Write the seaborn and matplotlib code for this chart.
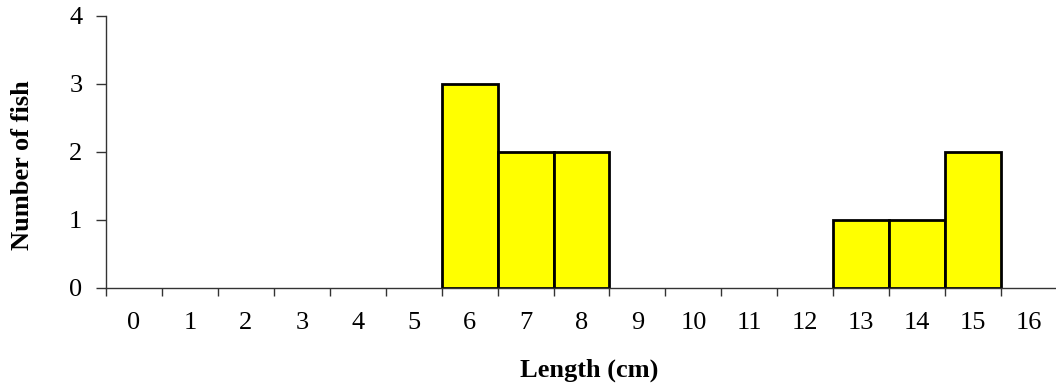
import numpy as np
import pandas as pd
import seaborn as sns
import matplotlib.pyplot as plt

# fish lengths (cm) and counts
lengths = list(range(0, 17))
counts = [0, 0, 0, 0, 0, 0, 3, 2, 2, 0, 0, 0, 0, 1, 1, 2, 0]

df = pd.DataFrame({"length": lengths, "count": counts})
bars = df[df["count"] > 0]

sns.set_style("white")
plt.rcParams['font.family'] = ['Liberation Serif', 'DejaVu Serif']
plt.rcParams['text.color'] = 'black'
plt.rcParams['axes.labelcolor'] = 'black'
plt.rcParams['xtick.labelcolor'] = 'black'
plt.rcParams['ytick.labelcolor'] = 'black'

fig = plt.figure(figsize=(10.56, 3.87), dpi=100)
ax = fig.add_axes([106 / 1056, 99 / 387, 951 / 1056, 272 / 387])

sns.barplot(data=bars, x="length", y="count", order=lengths, width=1,
            color="#ffff00", saturation=1, edgecolor="black", linewidth=2, ax=ax)

ax.set_xlim(-0.5, 16.5)
ax.set_ylim(0, 4)
ax.set_yticks(range(0, 5))
ax.set_xticks(range(len(lengths)))
ax.set_xticklabels([str(v) for v in lengths])
ax.set_xticks(np.arange(-0.5, 16, 1), minor=True)

ax.tick_params(axis="x", which="major", length=0, pad=17, labelsize=19,
               labelcolor="black")
ax.tick_params(axis="x", which="minor", length=6, width=1, direction="out",
               color="#333333", bottom=True)
ax.tick_params(axis="y", length=7, width=1, direction="out", color="#333333",
               pad=10, labelsize=19, left=True, labelcolor="black")

sns.despine(ax=ax, top=True, right=True)
for side in ["left", "bottom"]:
    ax.spines[side].set_color("#333333")
    ax.spines[side].set_linewidth(1)

ax.set_xlabel("Length (cm)", fontsize=19, fontweight="bold", color="black")
ax.xaxis.set_label_coords(0.508, -0.26)
ax.set_ylabel("Number of fish", fontsize=19, fontweight="bold", color="black")
ax.yaxis.set_label_coords(-0.076, 0.45)

fig.savefig("out.png", dpi=100)
